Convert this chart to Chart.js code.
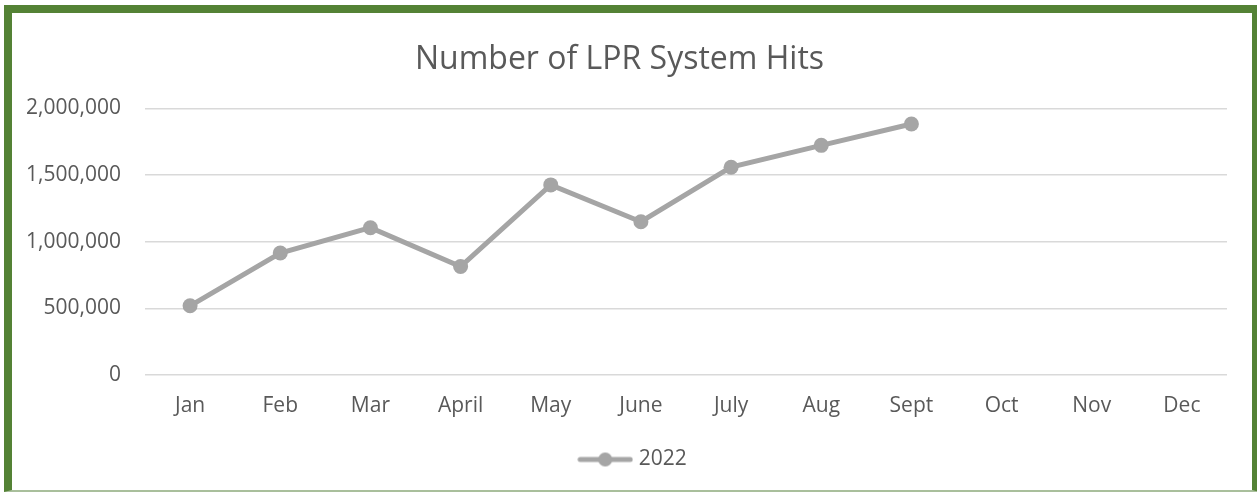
<!DOCTYPE html>
<html>
<head>
<meta charset="utf-8">
<script src="https://cdn.jsdelivr.net/npm/chart.js@4.4.0/dist/chart.umd.min.js"></script>
<style>
  html, body { margin: 0; padding: 0; background: #ffffff; overflow: hidden; width: 1257px; height: 492px; }
  #frame { position: absolute; left: 4px; top: 5px; width: 1240px; height: 477px;
           border-left: 8px solid #548235; border-top: 8px solid #548235; border-right: 8px solid #548235;
           border-bottom: 2px solid #a9bf9c; background: #fff; }
  canvas { display: block; }
</style>
</head>
<body>
<div id="frame"><canvas id="c" width="1240" height="477"></canvas></div>
<script>
const categories = ["Jan", "Feb", "Mar", "April", "May", "June", "July", "Aug", "Sept", "Oct", "Nov", "Dec"];
const seriesName = "2022";
const hits2022 = [519000, 915000, 1105000, 814000, 1426000, 1150000, 1559000, 1723000, 1883000, null, null, null];
const yTicks = [0, 500000, 1000000, 1500000, 2000000];
const chartTitle = "Number of LPR System Hits";

const FONT = "'Open Sans', 'Liberation Sans', sans-serif";
const TEXT = "#595959";
const LINE = "#a5a5a5";

// legend symbol: line with a marker in the middle
const sym = document.createElement('canvas');
sym.width = 56; sym.height = 16;
(function () {
  const g = sym.getContext('2d');
  g.strokeStyle = LINE; g.lineWidth = 5; g.lineCap = 'round';
  g.beginPath(); g.moveTo(3, 8); g.lineTo(53, 8); g.stroke();
  g.fillStyle = LINE; g.beginPath(); g.arc(28, 8, 7, 0, Math.PI * 2); g.fill();
})();

const legendShift = {
  id: 'legendShift',
  afterLayout(chart) {
    if (chart.legend) { chart.legend.left += 15; chart.legend.right += 15; }
  }
};

new Chart(document.getElementById('c'), {
  type: 'line',
  data: {
    labels: categories,
    datasets: [{
      label: seriesName,
      data: hits2022,
      borderColor: LINE,
      backgroundColor: LINE,
      borderWidth: 5,
      pointRadius: 7.5,
      pointBorderWidth: 0,
      pointBackgroundColor: LINE,
      tension: 0,
      spanGaps: false
    }]
  },
  plugins: [legendShift],
  options: {
    responsive: false,
    animation: false,
    devicePixelRatio: 1,
    layout: { padding: { left: 0, right: 25, top: 0, bottom: 10 } },
    plugins: {
      title: {
        display: true, text: chartTitle, color: TEXT,
        font: { family: FONT, size: 32, weight: 'normal' },
        padding: { top: 28, bottom: 29 }
      },
      legend: {
        display: true, position: 'bottom',
        labels: {
          usePointStyle: true, pointStyle: sym, pointStyleWidth: 46,
          color: TEXT, font: { family: FONT, size: 21 }, padding: 10
        }
      },
      tooltip: { enabled: false }
    },
    scales: {
      x: {
        offset: true,
        grid: { display: false, drawTicks: false },
        border: { display: false },
        ticks: { color: TEXT, font: { family: FONT, size: 21 }, padding: 18, maxRotation: 0, autoSkip: false },
        afterFit: (s) => { s.height = 64; }
      },
      y: {
        min: 0, max: 2000000,
        afterBuildTicks: (s) => { s.ticks = yTicks.map(v => ({ value: v })); },
        grid: { color: "#d9d9d9", lineWidth: 1.5, drawTicks: false },
        border: { display: false },
        ticks: {
          color: TEXT, font: { family: FONT, size: 21 }, padding: 24,
          callback: (v) => Number(v).toLocaleString('en-US')
        },
        afterFit: (s) => { s.width = 133; }
      }
    }
  }
});
</script>
</body>
</html>
